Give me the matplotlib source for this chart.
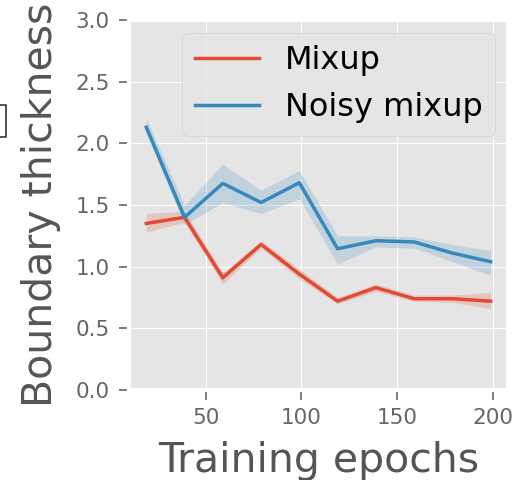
import numpy as np
from matplotlib import pyplot as plt
from matplotlib.lines import Line2D

epochs = [19, 39, 59, 79, 99, 119, 139, 159, 179, 199]

mixup_mean = [1.35, 1.40, 0.91, 1.18, 0.94, 0.72, 0.83, 0.74, 0.74, 0.72]
mixup_low = [1.28, 1.36, 0.86, 1.15, 0.90, 0.70, 0.80, 0.72, 0.71, 0.66]
mixup_high = [1.43, 1.45, 0.95, 1.21, 0.98, 0.75, 0.86, 0.77, 0.77, 0.79]

noisy_mean = [2.13, 1.40, 1.675, 1.52, 1.68, 1.145, 1.21, 1.20, 1.11, 1.04]
noisy_low = [2.08, 1.34, 1.52, 1.43, 1.55, 1.02, 1.16, 1.15, 1.04, 0.93]
noisy_high = [2.20, 1.50, 1.83, 1.62, 1.78, 1.25, 1.25, 1.24, 1.18, 1.13]

plt.style.use('ggplot')
fig = plt.figure(figsize=(5.29, 4.8), dpi=100)
ax = fig.add_axes([0.244, 0.1875, 0.716, 0.771])

for mean, low, high, label in ((mixup_mean, mixup_low, mixup_high, 'Mixup'),
                               (noisy_mean, noisy_low, noisy_high, 'Noisy mixup')):
    line, = ax.plot(epochs, mean, lw=2.5, label=label)
    ax.fill_between(epochs, low, high, color=line.get_color(), alpha=0.2, lw=0)

ax.set_ylim(0, 3.0)
ax.set_yticks(np.arange(0, 3.01, 0.5))
ax.set_xticks([50, 100, 150, 200])
for spine in ax.spines.values():
    spine.set_linewidth(3)
ax.tick_params(labelsize=15.5, labelcolor='#666666', length=7, width=1.2, color='#666666')
ax.tick_params(axis='x', pad=6)
ax.tick_params(axis='y', pad=7)
ax.set_xlabel('Training epochs', fontsize=29.5, labelpad=9)
ax.set_ylabel('Boundary thickness', fontsize=29.5, labelpad=10)
ax.legend(loc='upper right', fontsize=23, handlelength=2.0, borderaxespad=0.4)

# clipped edge of the neighbouring panel
fig.add_artist(Line2D([0, 6, 6, 0], [375, 375, 343, 343], transform=None,
                      color='#333333', lw=1.2))

fig.savefig('out.png', dpi=100)
